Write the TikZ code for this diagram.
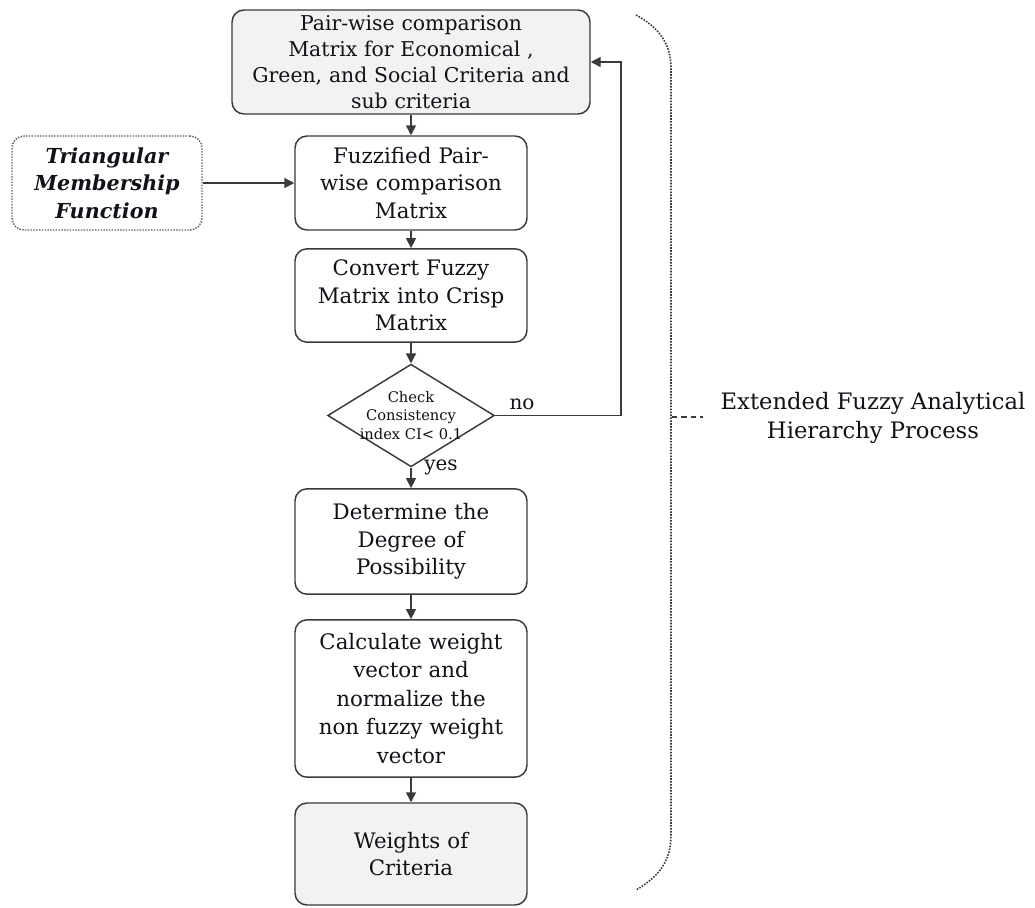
\documentclass[tikz,border=0pt]{standalone}
\usepackage{fontspec}
\setmainfont{DejaVu Serif}
\usetikzlibrary{arrows.meta,shapes.geometric}
\definecolor{boxgray}{HTML}{F2F2F2}
\definecolor{linec}{HTML}{3A3A3A}
\definecolor{txt}{HTML}{111118}
\begin{document}
\begin{tikzpicture}[x=0.75pt,y=-0.75pt,
  every node/.style={text=txt},
  procbox/.style={draw=linec, line width=1.1pt, rounded corners=9pt, align=center,
    inner sep=0pt, font=\fontsize{16}{20.5}\selectfont},
  arr/.style={draw=linec, line width=1.1pt, -{Triangle[length=7.5pt,width=7.5pt]}},
  lab/.style={font=\fontsize{15}{18}\selectfont}]
\useasboundingbox (0,0) rectangle (1035,907);
\node[procbox, fill=boxgray, minimum width=268.5pt, minimum height=78pt, text width=264pt,
  font=\fontsize{15.3}{19.5}\selectfont] (b1) at (411,62)
  {Pair-wise comparison\\Matrix for Economical ,\\Green, and Social Criteria and\\sub criteria};
\node[procbox, minimum width=174pt, minimum height=70.5pt, text width=170pt] (b2) at (411,183)
  {Fuzzified Pair-\\wise comparison\\Matrix};
\node[procbox, draw=linec!80, densely dotted, minimum width=142.5pt, minimum height=70.5pt, text width=140pt,
  font=\fontsize{15.5}{20.5}\selectfont\bfseries\itshape] (tri) at (107,183)
  {Triangular\\Membership\\Function};
\node[procbox, minimum width=174pt, minimum height=70pt, text width=170pt] (b3) at (411,295.5)
  {Convert Fuzzy\\Matrix into Crisp\\Matrix};
\node[draw=linec, line width=1.1pt, diamond, aspect=1.62, minimum width=125pt, minimum height=77pt, inner sep=0pt] (d) at (411,415.5) {};
\node[align=center, font=\fontsize{11}{14}\selectfont] (dt) at (d.center) {Check\\Consistency\\index CI< 0.1};
\node[procbox, minimum width=174pt, minimum height=79pt, text width=170pt] (b4) at (411,541.5)
  {Determine the\\Degree of\\Possibility};
\node[procbox, minimum width=174pt, minimum height=118pt, text width=170pt, font=\fontsize{16}{21.4}\selectfont] (b5) at (411,698.5)
  {Calculate weight\\vector and\\normalize the\\non fuzzy weight\\vector};
\node[procbox, fill=boxgray, minimum width=174pt, minimum height=76.5pt, text width=170pt] (b6) at (411,854)
  {Weights of\\Criteria};
\draw[arr] (b1) -- (b2);
\draw[arr] (tri) -- (b2);
\draw[arr] (b2) -- (b3);
\draw[arr] (b3) -- (d);
\draw[arr] (d) -- (b4);
\draw[arr] (b4) -- (b5);
\draw[arr] (b5) -- (b6);
\coordinate (fb) at (621,415.5);
\draw[arr] (d.east) -- (fb) |- (b1.east);
\node[lab] (no) at (522,404) {no};
\node[lab] (yes) at (441,467) {yes};
\draw[linec, line width=1.2pt, densely dotted] (636,15) .. controls (660,28) and (671,45) .. (671,68) -- (671,835) .. controls (671,860) and (660,876) .. (636,890);
\coordinate (tk1) at (672,417);
\coordinate (tk2) at (703,417);
\draw[linec, line width=0.8pt, dashed, dash pattern=on 4pt off 3pt] (tk1) -- (tk2);
\node[align=center, font=\fontsize{17}{21.75}\selectfont] (ext) at (873,418) {Extended Fuzzy Analytical\\Hierarchy Process};
\end{tikzpicture}
\end{document}
